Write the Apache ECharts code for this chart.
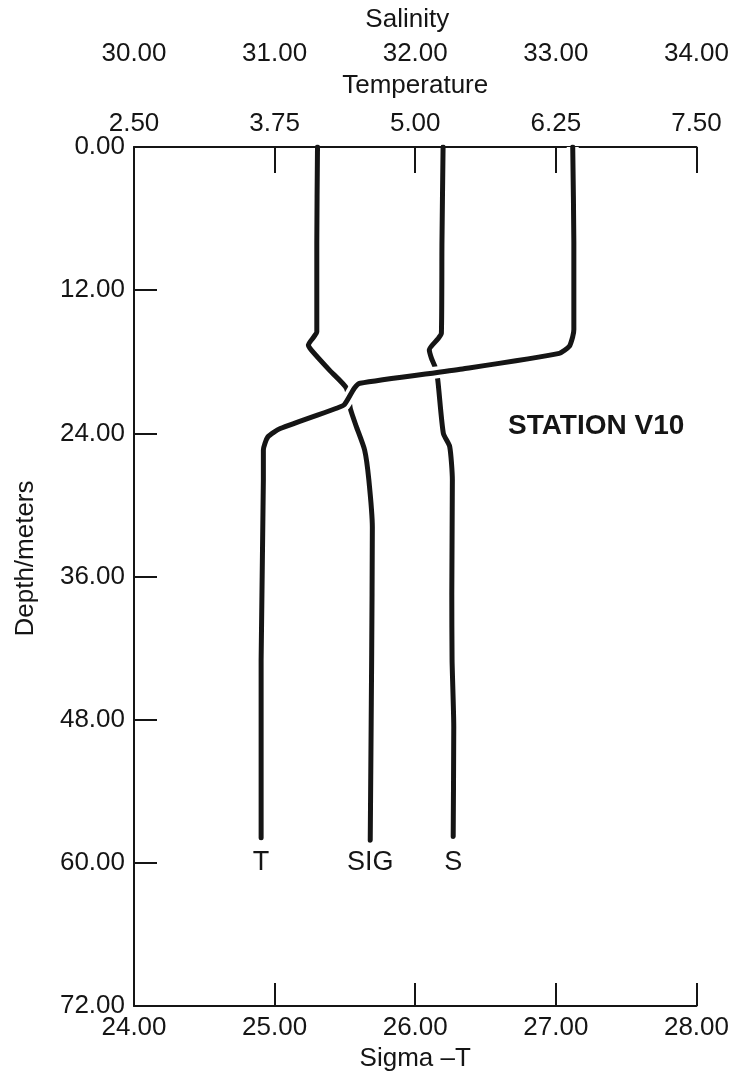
<!DOCTYPE html>
<html>
<head>
<meta charset="utf-8">
<script src="https://cdn.jsdelivr.net/npm/echarts@6/dist/echarts.min.js"></script>
<style>
html,body{margin:0;padding:0;background:#fff;}
#chart{width:732px;height:1086px;}
</style>
</head>
<body>
<div id="chart"></div>
<script>
// Temperature profile (T), degrees, vs depth (m)
const depthT = [0, 8, 15.3, 15.9, 16.7, 17.3, 18.6, 19.8, 20.2, 21.6, 21.9, 23.6, 24.3, 25.4, 27.9, 43, 57.9];
const tempT  = [6.40, 6.41, 6.41, 6.40, 6.37, 6.28, 5.42, 4.51, 4.46, 4.37, 4.30, 3.80, 3.69, 3.65, 3.65, 3.63, 3.63];
// Sigma-T profile (SIG)
const depthSig = [0, 8, 15.5, 15.9, 16.6, 17.0, 18.7, 20.2, 22.0, 23.4, 25.4, 27.9, 31.9, 43, 58.1];
const sigma    = [25.305, 25.30, 25.30, 25.28, 25.24, 25.26, 25.39, 25.51, 25.54, 25.58, 25.64, 25.67, 25.695, 25.69, 25.68];
// Salinity profile (S)
const depthSal = [0, 8, 15.6, 16.1, 17.0, 17.7, 18.4, 19.5, 24.0, 25.1, 27.9, 37.4, 43, 48.6, 57.8];
const salinity = [32.198, 32.19, 32.186, 32.16, 32.10, 32.115, 32.14, 32.16, 32.20, 32.245, 32.264, 32.26, 32.262, 32.274, 32.27];

const curveLabels = ['T', 'SIG', 'S'];
const labelDepth = 60;
const stationText = 'STATION V10';

const FONT = '"Liberation Sans", Arial, Helvetica, sans-serif';
const INK = '#151515';

function pairs(xs, ys) { return xs.map((x, i) => [x, ys[i]]); }
const fmt = v => v.toFixed(2);

const axisLineStyle = { color: INK, width: 2 };
const labelStyle = { fontFamily: FONT, fontSize: 26, color: INK };
const nameStyle = { fontFamily: FONT, fontSize: 26, color: INK };

const chart = echarts.init(document.getElementById('chart'), null, { renderer: 'canvas' });

function endMark(xs, text) {
  return {
    symbol: 'circle', symbolSize: 1, silent: true,
    itemStyle: { color: 'rgba(0,0,0,0)' },
    label: { show: true, position: 'inside', formatter: text, fontFamily: FONT, fontSize: 27, color: INK },
    data: [{ coord: [xs[xs.length - 1], labelDepth] }]
  };
}

const lineBase = { type: 'line', showSymbol: false, symbol: 'none', smooth: 0.2, animation: false, z: 3 };

chart.setOption({
  animation: false,
  backgroundColor: '#fff',
  grid: { left: 134, right: 35, top: 147, bottom: 80 },
  xAxis: [
    {
      type: 'value', position: 'bottom', min: 24, max: 28, interval: 1,
      axisLine: { show: true, onZero: false, lineStyle: axisLineStyle },
      axisTick: { show: true, inside: true, length: 23, lineStyle: axisLineStyle },
      axisLabel: Object.assign({ formatter: fmt, margin: 9 }, labelStyle),
      splitLine: { show: false },
      name: 'Sigma –T', nameLocation: 'middle', nameGap: 39, nameTextStyle: nameStyle
    },
    {
      type: 'value', position: 'top', min: 2.5, max: 7.5, interval: 1.25,
      axisLine: { show: true, onZero: false, lineStyle: axisLineStyle },
      axisTick: { show: true, inside: true, length: 26, lineStyle: axisLineStyle },
      axisLabel: Object.assign({ formatter: fmt, margin: 10 }, labelStyle),
      splitLine: { show: false },
      name: 'Temperature', nameLocation: 'middle', nameGap: 48, nameTextStyle: nameStyle
    },
    {
      type: 'value', position: 'top', offset: 71, min: 30, max: 34, interval: 1,
      axisLine: { show: false, onZero: false },
      axisTick: { show: false },
      axisLabel: Object.assign({ formatter: fmt, margin: 9 }, labelStyle),
      splitLine: { show: false },
      name: 'Salinity', nameLocation: 'middle', nameGap: 43,
      nameTextStyle: Object.assign({ padding: [0, 16, 0, 0] }, nameStyle)
    }
  ],
  yAxis: {
    type: 'value', inverse: true, min: 0, max: 72, interval: 12,
    axisLine: { show: true, onZero: false, lineStyle: axisLineStyle },
    axisTick: { show: true, inside: true, length: 23, lineStyle: axisLineStyle },
    axisLabel: Object.assign({ formatter: fmt, margin: 9 }, labelStyle),
    splitLine: { show: false },
    name: 'Depth/meters', nameLocation: 'middle', nameRotate: 90, nameGap: 95,
    nameTextStyle: Object.assign({ padding: [0, 0, 0, 36] }, nameStyle)
  },
  graphic: [{
    type: 'text', left: 508, top: 412, silent: true,
    style: { text: stationText, font: 'bold 28px ' + FONT, fill: INK }
  }],
  series: [
    Object.assign({}, lineBase, {
      name: 'SIG', xAxisIndex: 0, data: pairs(sigma, depthSig),
      lineStyle: { color: INK, width: 5, cap: 'round', join: 'round' },
      markPoint: endMark(sigma, curveLabels[1])
    }),
    Object.assign({}, lineBase, {
      name: 'S', xAxisIndex: 2, data: pairs(salinity, depthSal),
      lineStyle: { color: INK, width: 5, cap: 'round', join: 'round' },
      markPoint: endMark(salinity, curveLabels[2])
    }),
    Object.assign({}, lineBase, {
      name: 'T-gap', xAxisIndex: 1, data: pairs(tempT, depthT), z: 4,
      lineStyle: { color: '#fff', width: 12, cap: 'butt', join: 'round' }
    }),
    Object.assign({}, lineBase, {
      name: 'T', xAxisIndex: 1, data: pairs(tempT, depthT), z: 5,
      lineStyle: { color: INK, width: 5, cap: 'round', join: 'round' },
      markPoint: endMark(tempT, curveLabels[0])
    })
  ]
});
</script>
</body>
</html>
